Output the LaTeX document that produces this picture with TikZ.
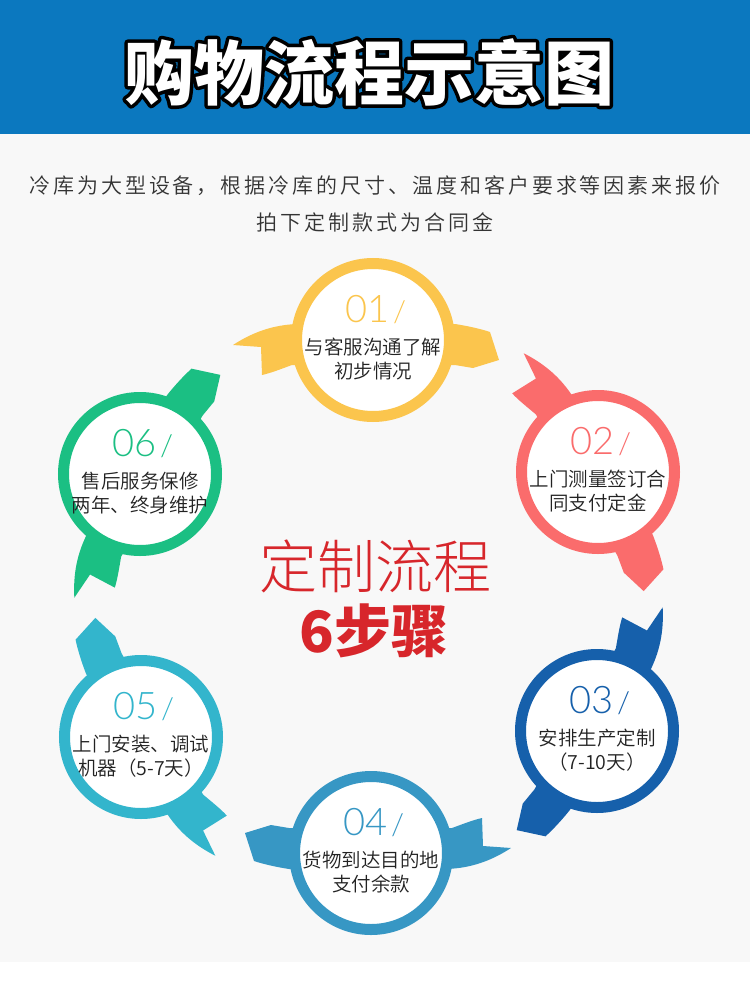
\documentclass[tikz,border=0pt]{standalone}
\usepackage{fontspec}
\setmainfont{Noto Sans CJK SC}
\newfontfamily\numfont{Lato Light}
\IfFontExistsTF{Noto Sans CJK SC Light}
  {\newfontfamily\cjklight{Noto Sans CJK SC Light}}
  {\newfontfamily\cjklight{Noto Sans CJK SC}}
\IfFontExistsTF{Noto Sans CJK SC DemiLight}
  {\newfontfamily\cjkdemi{Noto Sans CJK SC DemiLight}}
  {\newfontfamily\cjkdemi{Noto Sans CJK SC}}
\usetikzlibrary{calc}
\definecolor{headblue}{HTML}{0B78BF}
\definecolor{bgtex}{HTML}{F8F8F8}
\definecolor{cA}{HTML}{FBC54D}
\definecolor{cB}{HTML}{FA6C6C}
\definecolor{cC}{HTML}{1660AB}
\definecolor{cD}{HTML}{3797C4}
\definecolor{cE}{HTML}{33B5CC}
\definecolor{cF}{HTML}{1BBF83}
\definecolor{redtxt}{HTML}{D7262B}
\definecolor{txtdark}{HTML}{222222}
\definecolor{desc}{HTML}{333333}
\newcommand\strokeon{\special{pdf:literal direct 1 Tr 7 w 1 j 0 0 0 RG}}
\newcommand\strokeoff{\special{pdf:literal direct 0 Tr}}
\tikzset{
  ring/.style={circle, draw=#1, line width=11pt, fill=white, minimum size=153pt, inner sep=0pt},
  numlab/.style={text=#1, font=\numfont\fontsize{38}{38}\selectfont, inner sep=0pt},
  steptext/.style={text=txtdark, font=\cjkdemi\fontsize{19.5}{24}\selectfont, align=center, inner sep=0pt},
  titlefont/.style={font=\bfseries\fontsize{70}{70}\selectfont, inner sep=0pt},
  desctext/.style={text=desc, font=\cjkdemi\addfontfeature{LetterSpace=14}\fontsize{21}{21}\selectfont, inner sep=0pt},
}
\begin{document}
\begin{tikzpicture}[x=1pt,y=-1pt]
\useasboundingbox (0,0) rectangle (750,1003);
\fill[white] (0,0) rectangle (750,1003);
\fill[bgtex] (0,134) rectangle (750,962);
\fill[headblue] (0,0) rectangle (750,134);
% title with outline
\node[titlefont, text=black] (tshadow) at (369,72) {\strokeon 购物流程示意图\strokeoff};
\node[titlefont, text=white] (title) at (369,72) {购物流程示意图};
% description
\node[desctext] (d1) at (375,186) {冷库为大型设备，根据冷库的尺寸、温度和客户要求等因素来报价};
\node[desctext] (d2) at (375,222) {拍下定制款式为合同金};
% steps
\foreach \n/\cx/\cy/\rot/\col/\la/\lb in {
  1/373/340/0/cA/{与客服沟通了解}/{初步情况},
  2/598/472/-60/cB/{上门测量签订合}/{同支付定金},
  3/597/731/-120/cC/{安排生产定制}/{（7-10天）},
  4/371/853/-180/cD/{货物到达目的地}/{支付余款},
  5/141/737/-240/cE/{上门安装、调试}/{机器（5-7天）},
  6/140/474/-300/cF/{售后服务保修}/{两年、终身维护}}{
  \begin{scope}[shift={(\cx,\cy)}, rotate=\rot]
    \fill[\col] (-140,5) .. controls (-120,-8) and (-100,-15) .. (-76,-16)
      -- (82,-16) .. controls (95,-14) and (108,-11) .. (117,-8)
      -- (126,20) -- (100,28) -- (82,25) -- (-81,25)
      .. controls (-92,29) and (-102,33) .. (-111,35) -- (-112,7) -- cycle;
  \end{scope}
  \node[ring=\col] (r\n) at (\cx,\cy) {};
  \node[numlab=\col] (n\n) at (\cx+3,\cy-30) {0\n\hspace{3pt}{\fontsize{30}{30}\selectfont/}};
  \node[steptext] (t\n) at (\cx,\cy+19) {\la\\\lb};
}
% center
\node[text=redtxt, font=\cjklight\fontsize{58}{58}\selectfont, inner sep=0pt] (c1) at (375,566) {定制流程};
\node[text=redtxt, font=\bfseries\fontsize{57}{57}\selectfont, inner sep=0pt] (c2) at (374,631) {6步骤};
\end{tikzpicture}
\end{document}
